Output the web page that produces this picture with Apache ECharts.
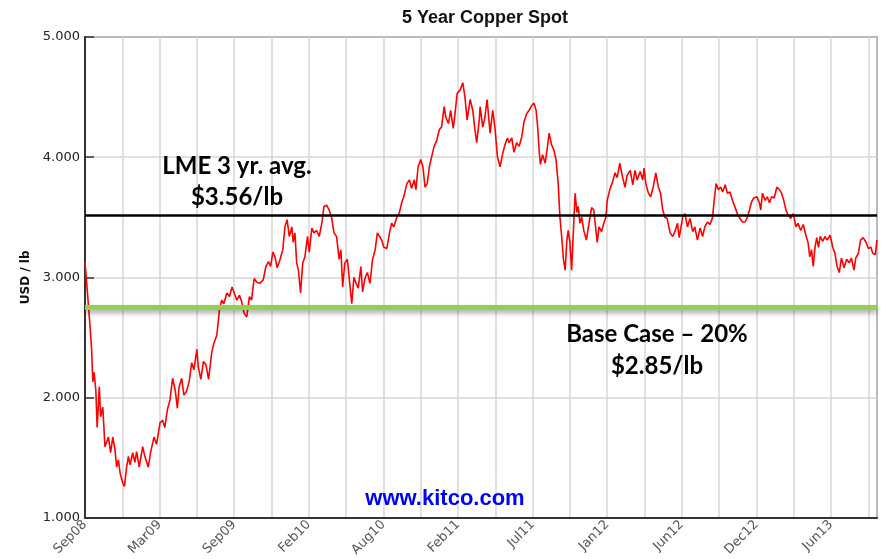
<!DOCTYPE html>
<html>
<head>
<meta charset="utf-8">
<title>5 Year Copper Spot</title>
<script src="https://cdn.jsdelivr.net/npm/echarts@6/dist/echarts.min.js"></script>
<style>
  html, body { margin: 0; padding: 0; background: #fff; }
  #chart { width: 881px; height: 559px; }
</style>
</head>
<body>
<div id="chart"></div>
<script>
// x values are days since the start of the window (Sep 2008)
const days = [
  0,5,10,15,18,21,25,28,33,36,41,46,54,59,64,69,73,77,81,87,91,96,100,104,110,115,119,125,133,138,
  146,151,159,165,173,179,184,190,196,202,208,213,217,223,228,234,240,246,251,258,261,267,273,279,285,292,297,304,310,315,
  320,327,333,339,344,350,356,361,367,373,379,384,390,396,403,411,417,423,428,433,438,443,
  449,456,461,466,471,477,480,484,488,492,497,502,507,513,517,523,528,534,540,546,551,557,563,569,574,580,586,590,594,599,
  605,609,615,620,625,630,636,640,646,651,657,663,669,674,679,684,689,696,702,707,712,719,725,730,735,742,748,753,759,763,
  768,774,779,784,789,794,799,805,811,817,822,828,832,838,843,849,853,858,865,871,876,881,888,894,899,903,909,
  911,917,922,927,934,940,945,951,957,963,968,974,978,984,989,995,1001,1007,1012,1018,1024,1030,1035,1040,1043,1047,1050,1055,1061,1066,
  1070,1076,1081,1086,1091,1095,1099,1103,1107,1111,1114,1118,1122,1126,1130,1134,1137,1141,1145,1150,1156,1162,1168,1173,1178,1181,1185,1191,1196,1201,
  1204,1210,1216,1222,1227,1233,1239,1245,1250,1257,1263,1268,1273,1280,1286,1289,1293,1299,1304,1310,1316,1322,1327,1332,1337,1342,1349,1355,1360,1366,1370,
  1372,1378,1383,1389,1395,1401,1406,1412,1418,1424,1429,1435,1441,1447,1450,1455,1460,1466,1470,1476,1481,1487,1493,1499,1504,1510,1516,1522,1527,1532,
  1537,1542,1549,1555,1558,1562,1568,1573,1578,1583,1589,1595,1601,1606,1611,1616,1621,1627,1633,1639,1644,1650,1656,1662,1667,1671,1675,1679,1683,1687,
  1691,1695,1701,1706,1711,1718,1724,1729,1734,1739,1744,1750,1756,1762,1767,1773,1777,1783,1788,1794,1801,1806,1812,1816,1822,1826
]

// copper spot, USD / lb
const prices = [
  3.13,2.9,2.67,2.42,2.13,2.21,2.06,1.75,2.09,1.84,1.92,1.59,1.67,1.54,1.67,1.57,1.42,1.48,1.37,1.29,1.26,1.42,1.51,1.44,1.54,1.46,1.55,1.42,1.59,1.51,
  1.42,1.54,1.67,1.61,1.79,1.81,1.75,1.9,1.98,2.16,2.06,1.91,2.09,2.16,2.02,2.05,2.13,2.29,2.23,2.4,2.26,2.15,2.3,2.27,2.15,2.37,2.45,2.52,2.73,2.81,
  2.78,2.87,2.84,2.92,2.87,2.81,2.85,2.8,2.7,2.67,2.84,2.81,2.99,2.96,2.95,2.98,3.09,3.13,3.09,3.21,3.17,3.08,
  3.14,3.23,3.42,3.48,3.34,3.42,3.29,3.37,3.12,3.06,2.87,3.12,3.17,3.34,3.21,3.41,3.37,3.39,3.34,3.45,3.59,3.6,3.56,3.49,3.37,3.34,3.15,3.23,2.92,3.12,
  3.15,3.0,2.78,3.0,2.95,2.91,3.09,2.88,3.0,3.04,2.95,3.15,3.23,3.37,3.34,3.31,3.25,3.24,3.37,3.45,3.42,3.5,3.54,3.62,3.67,3.78,3.81,3.74,3.81,3.73,
  3.92,3.98,3.92,3.75,3.78,3.92,4.0,4.09,4.14,4.23,4.25,4.42,4.33,4.28,4.39,4.24,4.36,4.53,4.56,4.62,4.5,4.31,4.48,4.39,4.23,4.12,4.31,
  4.42,4.25,4.33,4.48,4.2,4.39,4.25,4.0,3.92,4.03,4.1,4.16,4.12,4.16,4.04,4.12,4.09,4.17,4.29,4.36,4.39,4.43,4.45,4.39,4.28,4.06,3.94,4.02,3.95,4.08,
  4.2,4.1,4.06,3.98,3.78,3.5,3.34,3.15,3.06,3.31,3.39,3.29,3.06,3.39,3.7,3.54,3.59,3.45,3.5,3.39,3.31,3.45,3.58,3.56,3.39,3.29,3.42,3.38,3.45,3.5,
  3.64,3.73,3.79,3.87,3.83,3.95,3.84,3.75,3.85,3.89,3.77,3.89,3.81,3.88,3.81,3.91,3.78,3.7,3.67,3.75,3.87,3.75,3.7,3.56,3.5,3.49,3.37,3.34,3.38,3.45,3.33,
  3.34,3.5,3.53,3.42,3.49,3.38,3.42,3.31,3.41,3.34,3.42,3.46,3.44,3.5,3.62,3.78,3.73,3.75,3.71,3.77,3.7,3.71,3.64,3.58,3.53,3.49,3.46,3.46,3.5,3.56,
  3.63,3.66,3.67,3.62,3.56,3.7,3.64,3.67,3.62,3.67,3.66,3.75,3.73,3.7,3.64,3.56,3.52,3.49,3.53,3.42,3.45,3.39,3.44,3.35,3.29,3.17,3.23,3.09,3.25,3.33,
  3.25,3.34,3.3,3.34,3.31,3.35,3.25,3.2,3.09,3.04,3.16,3.08,3.15,3.12,3.16,3.06,3.16,3.2,3.31,3.33,3.29,3.24,3.25,3.2,3.19,3.31
]

// one label every other grid line
const tickLabels = ['Sep08', 'Mar09', 'Sep09', 'Feb10', 'Aug10', 'Feb11', 'Jul11', 'Jan12', 'Jun12', 'Dec12', 'Jun13']
const gridStep = 86
const lastDay = 1826

// reference levels drawn across the chart
const lmeLevel = 3.52
const baseCaseLevel = 2.75

const chart = echarts.init(document.getElementById('chart'))

// annotation text, same look for all of them
function note(x, y, text) {
  return {
    type: 'text',
    z: 100,
    style: {
      x: x, y: y, text: text, textAlign: 'center', textVerticalAlign: 'middle',
      font: 'bold 24px Lato', fill: '#000'
    }
  }
}

const options = {
  animation: false,
  backgroundColor: '#fff',
  title: {
    text: '5 Year Copper Spot',
    left: 397,
    top: 4,
    textStyle: { fontFamily: 'Liberation Sans', fontSize: 18, fontWeight: 'bold', color: '#111' }
  },
  grid: {
    left: 85,
    right: 4,
    top: 37,
    bottom: 41,
    show: true,
    borderColor: '#333',
    borderWidth: 1.5
  },
  xAxis: {
    type: 'value',
    min: 0,
    max: lastDay,
    interval: gridStep,
    axisLine: { lineStyle: { color: '#333', width: 2 } },
    axisTick: { show: false },
    axisLabel: {
      rotate: 45,
      margin: 5,
      color: '#555',
      fontFamily: 'DejaVu Sans',
      fontSize: 13,
      formatter: function (v) {
        const i = Math.round(v / gridStep)
        if (i % 2 !== 0) return ''
        return tickLabels[i / 2] || ''
      }
    },
    splitLine: { show: true, lineStyle: { color: '#d6d6d6', width: 1.5 } }
  },
  yAxis: {
    type: 'value',
    min: 1,
    max: 5,
    interval: 1,
    name: 'USD / lb',
    nameLocation: 'middle',
    nameRotate: 90,
    nameGap: 50,
    nameTextStyle: { fontFamily: 'DejaVu Sans', fontSize: 12, fontWeight: 'bold', color: '#111' },
    axisLine: { show: true, lineStyle: { color: '#333', width: 2 } },
    axisTick: { show: true, inside: true, length: 9, lineStyle: { color: '#333', width: 1.5 } },
    axisLabel: {
      margin: 5,
      color: '#222',
      fontFamily: 'DejaVu Sans',
      fontSize: 13,
      formatter: function (v) { return v.toFixed(3) }
    },
    splitLine: { show: true, lineStyle: { color: '#d6d6d6', width: 1.5 } }
  },
  series: [
    {
      type: 'line',
      data: days.map((d, i) => [d, prices[i]]),
      symbol: 'none',
      lineStyle: { color: '#ff0000', width: 1.6 },
      markLine: {
        silent: true,
        symbol: 'none',
        label: { show: false },
        data: [
          {
            yAxis: baseCaseLevel,
            lineStyle: {
              color: '#92d050', width: 5, type: 'solid',
              shadowColor: 'rgba(0,0,0,0.35)', shadowBlur: 5, shadowOffsetY: 3
            }
          },
          { yAxis: lmeLevel, lineStyle: { color: '#000', width: 2.5, type: 'solid' } }
        ]
      }
    }
  ],
  graphic: [
    note(237, 166, 'LME 3 yr. avg.'),
    note(237, 197, '$3.56/lb'),
    note(657, 334, 'Base Case \u2013 20%'),
    note(657, 366, '$2.85/lb'),
    {
      type: 'text',
      z: 100,
      style: {
        x: 445, y: 499, text: 'www.kitco.com', textAlign: 'center', textVerticalAlign: 'middle',
        font: 'bold 22px "Liberation Sans"', fill: '#0000ff'
      }
    }
  ]
}

chart.setOption(options)
</script>
</body>
</html>
